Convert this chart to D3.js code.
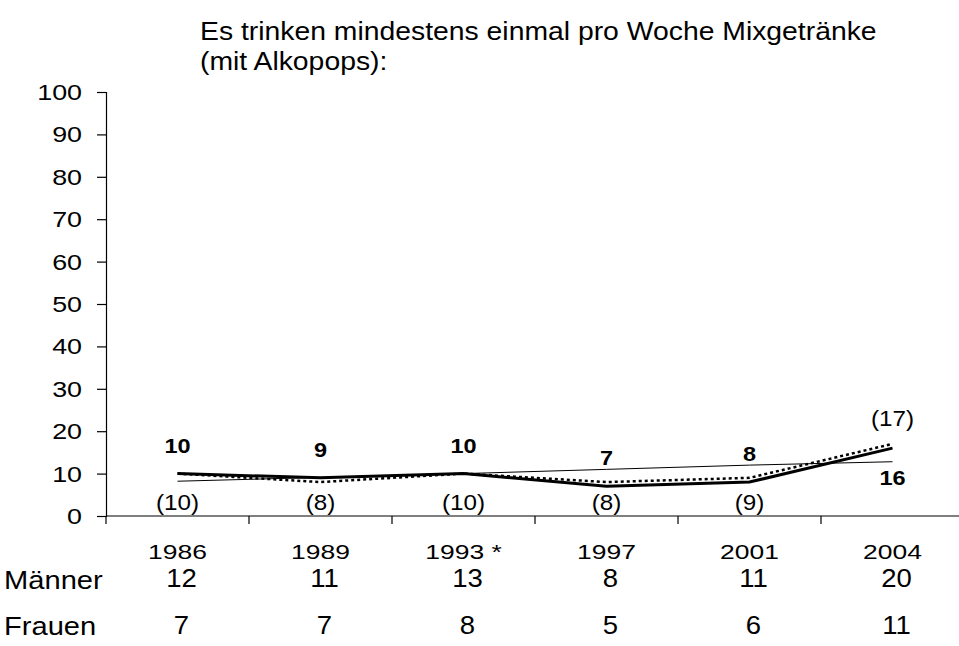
<!DOCTYPE html>
<html>
<head>
<meta charset="utf-8">
<script src="https://cdn.jsdelivr.net/npm/d3@7"></script>
<style>
  body { margin: 0; background: #fff; }
  svg text { font-family: Arial, "Liberation Sans", sans-serif; fill: #000; }
</style>
</head>
<body>
<div id="chart"></div>
<script>
// Chart data
const years = ["1986", "1989", "1993 *", "1997", "2001", "2004"];
const total = [10, 9, 10, 7, 8, 16];          // thick line, bold labels
const totalPrev = [10, 8, 10, 8, 9, 17];      // dotted line, labels in brackets
const trend = [8.2, 9.1, 10.0, 11.0, 12.0, 12.8]; // thin line
const men = [12, 11, 13, 8, 11, 20];
const women = [7, 7, 8, 5, 6, 11];
const yTicks = [0, 10, 20, 30, 40, 50, 60, 70, 80, 90, 100];
const titleLines = ["Es trinken mindestens einmal pro Woche Mixgetränke", "(mit Alkopops):"];

const width = 959, height = 646;

const svg = d3.select("#chart").append("svg")
  .attr("width", width)
  .attr("height", height);

const x = d3.scaleBand()
  .domain(years)
  .range([106, 964]);

const y = d3.scaleLinear()
  .domain([0, 100])
  .range([516, 92]);

// text in the source is a little stretched horizontally
function label(g, px, py, txt, size, sx, anchor, weight) {
  return g.append("text")
    .attr("transform", `translate(${px},${py}) scale(${sx},1)`)
    .attr("text-anchor", anchor || "middle")
    .style("font-size", size + "px")
    .style("font-weight", weight || "normal")
    .text(txt);
}

// Title
titleLines.forEach((t, i) => label(svg, 200, 40 + i * 30, t, 26, 1.09, "start"));

// Y axis
const yAxis = svg.append("g")
  .attr("transform", "translate(106,0)")
  .call(d3.axisLeft(y).tickValues(yTicks).tickSize(9).tickFormat(""));
yAxis.selectAll("line, path").attr("stroke", "#000").attr("stroke-width", 1.2);
yTicks.forEach(t => label(svg, 82, y(t) + 8, t, 22, 1.22, "end"));

// X axis: ticks at band borders
const xAxis = svg.append("g")
  .attr("transform", `translate(0,${y(0)})`);
xAxis.append("line")
  .attr("x1", x.range()[0]).attr("x2", x.range()[1])
  .attr("stroke", "#000").attr("stroke-width", 1.2);
xAxis.selectAll("line.tick")
  .data(years)
  .enter().append("line")
  .attr("class", "tick")
  .attr("x1", d => x(d)).attr("x2", d => x(d))
  .attr("y1", 0).attr("y2", 8)
  .attr("stroke", "#000").attr("stroke-width", 1.2);

const cx = d => x(d) + x.bandwidth() / 2;

// Category labels and table below
years.forEach((yr, i) => {
  label(svg, cx(yr), 559, yr, 21, 1.26);
  label(svg, cx(yr) + 4, 587, men[i], 25, 1.1);
  label(svg, cx(yr) + 4, 634, women[i], 25, 1.1);
});
label(svg, 4, 589, "Männer", 26, 1.12, "start");
label(svg, 4, 635, "Frauen", 26, 1.12, "start");

// Lines
const line = d3.line()
  .x((d, i) => cx(years[i]))
  .y(d => y(d));

svg.append("path")
  .datum(trend)
  .attr("d", line)
  .attr("fill", "none")
  .attr("stroke", "#000")
  .attr("stroke-width", 1);

svg.append("path")
  .datum(totalPrev)
  .attr("d", line)
  .attr("fill", "none")
  .attr("stroke", "#000")
  .attr("stroke-width", 2.5)
  .attr("stroke-dasharray", "3,3");

svg.append("path")
  .datum(total)
  .attr("d", line)
  .attr("fill", "none")
  .attr("stroke", "#000")
  .attr("stroke-width", 3);

// Data labels
const last = years.length - 1;
total.forEach((v, i) => {
  const py = i === last ? y(v) + 37 : y(v) - 21;
  label(svg, cx(years[i]), py, v, 21, 1.12, "middle", "bold");
});
totalPrev.forEach((v, i) => {
  const py = i === last ? y(v) - 18 : y(0) - 6;
  label(svg, cx(years[i]), py, `(${v})`, 22, 1.1);
});
</script>
</body>
</html>
